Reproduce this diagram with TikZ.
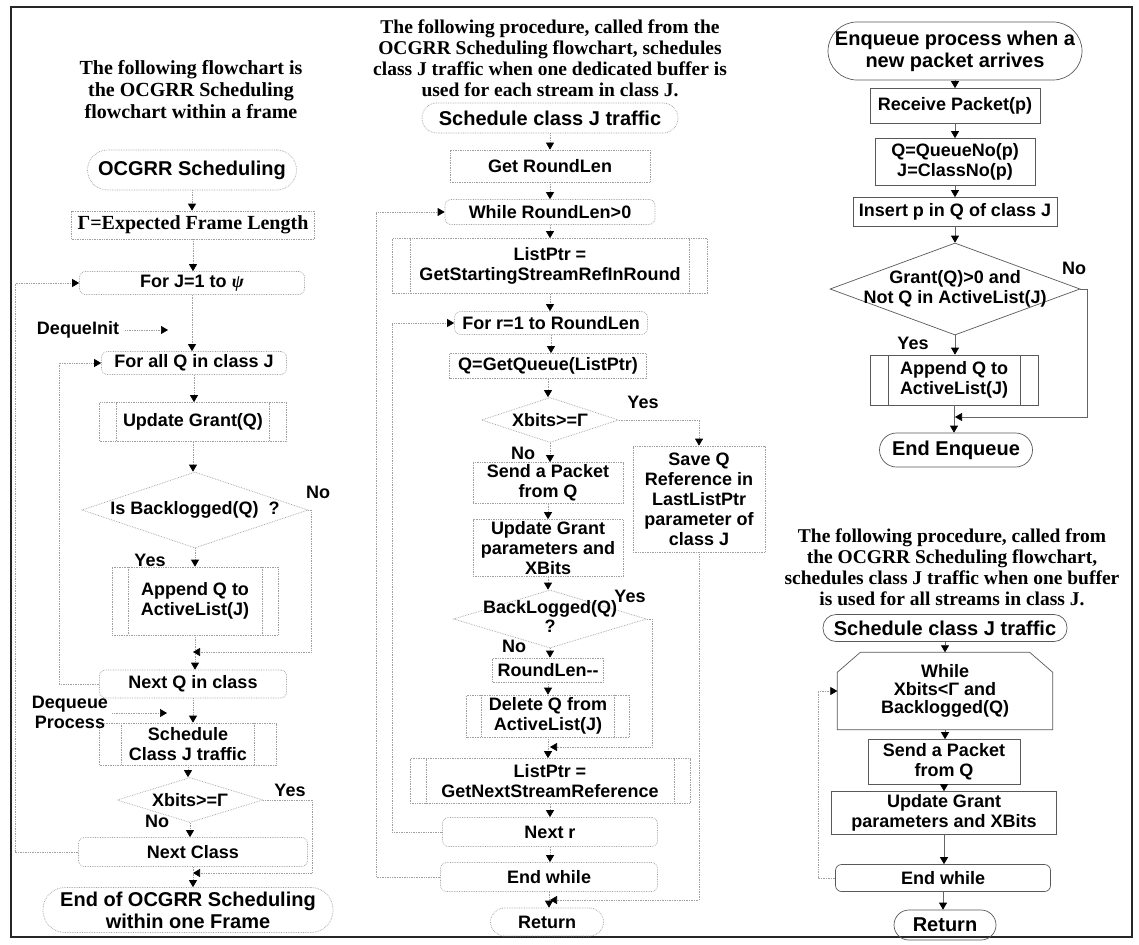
\documentclass[tikz,border=0pt]{standalone}
\usepackage{fontspec}
\setmainfont{Liberation Serif}
\setsansfont{Liberation Sans}
\usetikzlibrary{shapes.geometric,arrows.meta,calc}
\newcommand\bxf{\sffamily\bfseries\fontsize{18}{20}\selectfont}
\newcommand\hdf{\sffamily\bfseries\fontsize{20}{22}\selectfont}
\newcommand\ttlf{\rmfamily\bfseries\fontsize{19.5}{21}\selectfont}
\begin{document}
\begin{tikzpicture}[x=1pt,y=-1pt,
  base/.style={draw=gray!75, densely dotted, line width=0.7pt, inner sep=0pt, align=center, font=\bxf},
  tbox/.style={base, rectangle},
  lbox/.style={base, rectangle, rounded corners=6pt},
  term/.style={base, rectangle, rounded corners=#1, font=\hdf}, term/.default=14pt,
  ppl/.style={draw=gray!75, densely dotted, line width=0.7pt},
  rppl/.style={draw=black!65, line width=0.7pt},
  pbox/.style={tbox, path picture={
      \draw[ppl] ([xshift=#1]path picture bounding box.north west) -- ([xshift=#1]path picture bounding box.south west);
      \draw[ppl] ([xshift=-#1]path picture bounding box.north east) -- ([xshift=-#1]path picture bounding box.south east);}},
  pbox/.default=17pt,
  rpbox/.style={tbox, rs, path picture={
      \draw[rppl] ([xshift=#1]path picture bounding box.north west) -- ([xshift=#1]path picture bounding box.south west);
      \draw[rppl] ([xshift=-#1]path picture bounding box.north east) -- ([xshift=-#1]path picture bounding box.south east);}},
  rpbox/.default=17pt,
  dbox/.style={base, diamond},
  rs/.style={draw=black!65, solid},
  conn/.style={draw=gray!75, densely dotted, line width=0.7pt},
  arr/.style={conn, -{Triangle[width=8pt,length=7pt,color=black]}},
  rarr/.style={arr, draw=black!60, solid},
  lbl/.style={font=\bxf, inner sep=0pt, align=center},
  ttl/.style={font=\ttlf, inner sep=0pt, align=center}]
\useasboundingbox (0,0) rectangle (1139,944);
\fill[white] (0,0) rectangle (1139,944);
\draw[line width=2.5pt, black!85] (11,7) rectangle (1132,937);

% ---------------- left column ----------------
\node[ttl, font=\rmfamily\bfseries\fontsize{20}{22}\selectfont] (t1) at (191,90) {The following flowchart is\\the OCGRR Scheduling\\flowchart within a frame};
\node[term=20pt, minimum width=209pt, minimum height=40pt] (ocg) at (192,170) {OCGRR Scheduling};
\node[tbox, font=\rmfamily\bfseries\fontsize{20}{22}\selectfont, minimum width=243pt, minimum height=28pt] (gam) at (193,225) {Γ=Expected Frame Length};
\node[lbox, minimum width=225pt, minimum height=23pt] (forj) at (192,283) {For J=1 to {\rmfamily\itshape ψ}};
\node[lbox, minimum width=185pt, minimum height=23pt] (fora) at (194,363) {For all Q in class J};
\node[pbox, minimum width=187pt, minimum height=39pt] (upd) at (193,422) {Update Grant(Q)};
\node[dbox, minimum width=226pt, minimum height=76pt] (isb) at (195,510) {\makebox[0pt]{Is Backlogged(Q)\hspace{10pt}?}};
\node[pbox=16pt, minimum width=166pt, minimum height=68pt] (app) at (195,601) {Append Q to\\ActiveList(J)};
\node[lbox, minimum width=187pt, minimum height=28pt] (nextq) at (193,684) {Next Q in class};
\node[pbox=22pt, minimum width=177pt, minimum height=42pt] (sch) at (188,744) {Schedule\\Class J traffic};
\node[dbox, minimum width=146pt, minimum height=45pt] (xb) at (190,800) {\makebox[0pt]{Xbits>=Γ}};
\node[lbox, minimum width=229pt, minimum height=29pt] (nextc) at (193,852) {Next Class};
\node[term=22pt, minimum width=290pt, minimum height=45pt] (endo) at (188,910) {End of OCGRR Scheduling\\within one Frame};

\node[lbl] (dqi) at (78,330) {DequeInit};
\node[lbl] (dqp) at (70,712) {Dequeue\\Process};
\node[lbl] (no1) at (318,492) {No};
\node[lbl] (yes1) at (150,560) {Yes};
\node[lbl] (yes2) at (290,790) {Yes};
\node[lbl] (no2) at (157,821) {No};

\coordinate (dqa) at (168,330);
\coordinate (dpa) at (167,713);
\coordinate (j1) at (193,652);
\coordinate (j2) at (193,873);

\draw[arr] (ocg.south) -- (ocg.south |- gam.north);
\draw[arr] (gam.south) -- (gam.south |- forj.north);
\draw[arr] (forj.south) -- (forj.south |- fora.north);
\draw[arr] ([xshift=6pt]dqi.east) -- (dqa);
\draw[arr] (fora.south) -- (fora.south |- upd.north);
\draw[arr] (upd.south) -- (upd.south |- isb.north);
\draw[arr] (isb.south) -- (isb.south |- app.north);
\draw[arr] (app.south) -- (app.south |- nextq.north);
\draw[arr] (isb.east) -- ++(3,0) |- (j1);
\draw[arr] (nextq.west) -- ++(-40,0) |- (fora.west);
\draw[arr] (nextq.south) -- (nextq.south |- sch.north);
\draw[arr] ([xshift=4pt]dqp.east |- dpa) -- (dpa);
\draw[arr] (sch.south) -- (sch.south |- xb.north);
\draw[arr] (xb.south) -- (xb.south |- nextc.north);
\draw[arr] (xb.east) -- ++(49,0) |- (j2);
\draw[arr] (nextc.south) -- (nextc.south |- endo.north);
\draw[arr] (nextc.west) -- ++(-63,0) |- (forj.west);

% ---------------- middle column ----------------
\node[ttl] (t2) at (550,58.5) {The following procedure, called from the\\OCGRR Scheduling flowchart, schedules\\class J traffic when one dedicated buffer is\\used for each stream in class J.};
\node[term=15pt, minimum width=256pt, minimum height=30pt] (msch) at (550,118) {Schedule class J traffic};
\node[tbox, minimum width=200pt, minimum height=32pt] (grl) at (550,166) {Get RoundLen};
\node[lbox, minimum width=210pt, minimum height=25pt] (wrl) at (550,212) {While RoundLen>0};
\node[pbox=18pt, minimum width=315pt, minimum height=55pt] (lp1) at (550,266) {ListPtr =\\GetStartingStreamRefInRound};
\node[lbox, minimum width=193pt, minimum height=23pt] (forr) at (551,323) {For r=1 to RoundLen};
\node[tbox, minimum width=197pt, minimum height=25pt] (gq) at (548,366) {Q=GetQueue(ListPtr)};
\node[dbox, minimum width=137pt, minimum height=45pt] (mxb) at (550,420) {\makebox[0pt]{Xbits>=Γ}};
\node[tbox, minimum width=150pt, minimum height=41pt] (send) at (548,483) {Send a Packet\\from Q};
\node[tbox, minimum width=150pt, minimum height=57pt] (updm) at (548,548) {Update Grant\\parameters and\\XBits};
\node[dbox, minimum width=193pt, minimum height=58pt] (blg) at (550,619) {\makebox[0pt]{\begin{tabular}{@{}c@{}}BackLogged(Q)\\[-1pt]?\end{tabular}}};
\node[tbox, minimum width=111pt, minimum height=24pt] (rld) at (548,670) {RoundLen-{}-};
\node[pbox=15pt, minimum width=163pt, minimum height=42pt] (del) at (548,716) {Delete Q from\\ActiveList(J)};
\node[pbox=16pt, minimum width=280pt, minimum height=45pt] (lp2) at (550,781) {ListPtr =\\GetNextStreamReference};
\node[lbox, minimum width=215pt, minimum height=29pt] (nextr) at (550,832) {Next r};
\node[lbox, minimum width=217pt, minimum height=29pt] (endw) at (549,877) {End while};
\node[term=14pt, font=\bxf, minimum width=113pt, minimum height=28pt] (ret) at (547,922) {Return};
\node[tbox, minimum width=132pt, minimum height=106pt] (saveq) at (699,499) {Save Q\\Reference in\\LastListPtr\\parameter of\\class J};

\node[lbl] (yes3) at (643,402) {Yes};
\node[lbl] (no3) at (523,453) {No};
\node[lbl] (yes4) at (630,596) {Yes};
\node[lbl] (no4) at (514,646) {No};

\coordinate (j3) at (550,747);
\coordinate (j4) at (550,900);

\draw[arr] (msch.south) -- (msch.south |- grl.north);
\draw[arr] (grl.south) -- (grl.south |- wrl.north);
\draw[arr] (wrl.south) -- (wrl.south |- lp1.north);
\draw[arr] (lp1.south) -- (lp1.south |- forr.north);
\draw[arr] (forr.south) -- (forr.south |- gq.north);
\draw[arr] (gq.south) -- (gq.south |- mxb.north);
\draw[arr] (mxb.south) -- (mxb.south |- send.north);
\draw[arr] (mxb.east) -| (saveq.north);
\draw[arr] (send.south) -- (send.south |- updm.north);
\draw[arr] (updm.south) -- (updm.south |- blg.north);
\draw[arr] (blg.south) -- (blg.south |- rld.north);
\draw[arr] (rld.south) -- (rld.south |- del.north);
\draw[arr] (del.south) -- (del.south |- lp2.north);
\draw[arr] (blg.east) -- ++(5,0) |- (j3);
\draw[arr] (lp2.south) -- (lp2.south |- nextr.north);
\draw[arr] (nextr.south) -- (nextr.south |- endw.north);
\draw[arr] (nextr.west) -- ++(-50,0) |- (forr.west);
\draw[arr] (endw.west) -- ++(-64,0) |- (wrl.west);
\draw[arr] (endw.south) -- (endw.south |- ret.north);
\draw[arr] (saveq.south) |- (j4);

% ---------------- right column (top) ----------------
\node[term=29pt, rs, minimum width=254pt, minimum height=58pt] (enq) at (955,51) {Enqueue process when a\\new packet arrives};
\node[tbox, rs, minimum width=170pt, minimum height=35pt] (rcv) at (955,106) {Receive Packet(p)};
\node[tbox, rs, minimum width=160pt, minimum height=47pt] (qno) at (955,162) {Q=QueueNo(p)\\J=ClassNo(p)};
\node[tbox, rs, minimum width=204pt, minimum height=29pt] (ins) at (955,212) {Insert p in Q of class J};
\node[dbox, rs, minimum width=250pt, minimum height=92pt] (gdia) at (955,289) {\makebox[0pt]{\begin{tabular}{@{}c@{}}Grant(Q)>0 and\\Not Q in ActiveList(J)\end{tabular}}};
\node[rpbox=18pt, minimum width=168pt, minimum height=50pt] (appr) at (954,380) {Append Q to\\ActiveList(J)};
\node[term=17pt, rs, minimum width=153pt, minimum height=34pt] (ende) at (956,450) {End Enqueue};

\node[lbl] (no5) at (1074,268) {No};
\node[lbl] (yes5) at (913,343) {Yes};
\coordinate (j5) at (955,417);

\draw[rarr] (enq.south) -- (enq.south |- rcv.north);
\draw[rarr] (rcv.south) -- (rcv.south |- qno.north);
\draw[rarr] (qno.south) -- (qno.south |- ins.north);
\draw[rarr] (ins.south) -- (ins.south |- gdia.north);
\draw[rarr] (gdia.south) -- (gdia.south |- appr.north);
\draw[rarr] (appr.south) -- (appr.south |- ende.north);
\draw[rarr] (gdia.east) -- ++(7,0) |- (j5);

% ---------------- right column (bottom) ----------------
\node[ttl] (t3) at (952,567.5) {The following procedure, called from\\the OCGRR Scheduling flowchart,\\schedules class J traffic when one buffer\\is used for all streams in class J.};
\node[term=13pt, rs, minimum width=244pt, minimum height=27pt] (rsch) at (945,628) {Schedule class J traffic};
\node[lbl, font=\sffamily\bfseries\fontsize{18}{18}\selectfont, minimum width=215pt, minimum height=77pt] (rwh) at (945,691) {While\\Xbits<Γ and\\Backlogged(Q)};
\draw[draw=black!65, line width=0.7pt] (rwh.south west) -- ($(rwh.north west)+(0,20)$) -- ($(rwh.north west)+(23,0)$) -- ($(rwh.north east)+(-23,0)$) -- ($(rwh.north east)+(0,20)$) -- (rwh.south east) -- cycle;
\node[tbox, rs, minimum width=152pt, minimum height=45pt] (rsend) at (944,762) {Send a Packet\\from Q};
\node[tbox, rs, minimum width=225pt, minimum height=43pt] (rupd) at (944,813) {Update Grant\\parameters and XBits};
\node[lbox, rs, minimum width=215pt, minimum height=27pt] (rendw) at (943,878) {End while};
\node[term=15pt, rs, minimum width=102pt, minimum height=30pt] (rret) at (945,925) {Return};

\draw[rarr] (rsch.south) -- (rsch.south |- rwh.north);
\draw[rarr] (rwh.south) -- (rwh.south |- rsend.north);
\draw[rarr] (rsend.south) -- (rsend.south |- rupd.north);
\draw[rarr] (rupd.south) -- (rupd.south |- rendw.north);
\draw[rarr] (rendw.south) -- (rendw.south |- rret.north);
\draw[arr] (rendw.west) -- ++(-17,0) |- (rwh.west);
\end{tikzpicture}
\end{document}
